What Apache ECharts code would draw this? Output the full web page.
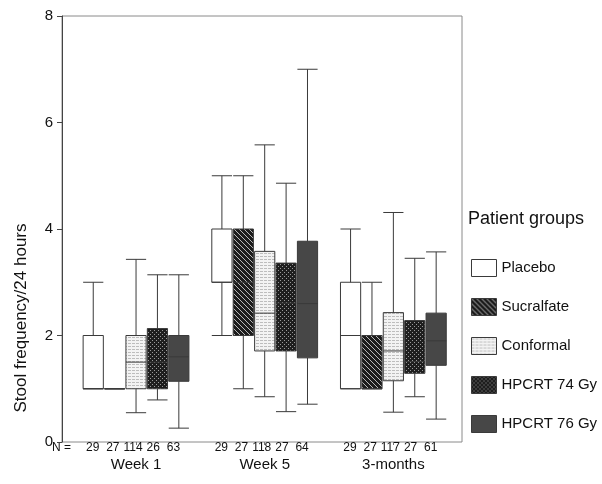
<!DOCTYPE html>
<html>
<head>
<meta charset="utf-8">
<script src="https://cdn.jsdelivr.net/npm/echarts@6/dist/echarts.min.js"></script>
<style>
  html, body { margin: 0; padding: 0; background: #fff; }
  #chart { width: 602px; height: 484px; }
</style>
</head>
<body>
<div id="chart"></div>
<script>
// data
var groups = ['Placebo', 'Sucralfate', 'Conformal', 'HPCRT 74 Gy', 'HPCRT 76 Gy']
var periods = ['Week 1', 'Week 5', '3-months']
var nCounts = [
  [29, 27, 114, 26, 63],
  [29, 27, 118, 27, 64],
  [29, 27, 117, 27, 61]
]
var yTicks = [0, 2, 4, 6, 8]
// [min, Q1, median, Q3, max] per period
var placebo = [[1, 1, 1, 2, 3], [2, 3, 3, 4, 5], [1, 1, 2, 3, 4]]
var sucralfate = [[1, 1, 1, 1, 1], [1, 2, 3, 4, 5], [1, 1, 1, 2, 3]]
var conformal = [[0.55, 1, 1.5, 2, 3.43], [0.85, 1.71, 2.42, 3.58, 5.58], [0.56, 1.15, 1.71, 2.43, 4.31]]
var hpcrt74 = [[0.79, 1, 1.5, 2.13, 3.14], [0.57, 1.71, 2.61, 3.36, 4.86], [0.85, 1.29, 1.51, 2.28, 3.45]]
var hpcrt76 = [[0.26, 1.14, 1.6, 2, 3.14], [0.71, 1.58, 2.6, 3.77, 7.0], [0.43, 1.44, 1.9, 2.42, 3.57]]
var allData = [placebo, sucralfate, conformal, hpcrt74, hpcrt76]

var FONT = '"Liberation Sans", Arial, sans-serif'

// little tiles used as fill patterns
function makePattern(w, h, bg, fg, test) {
  var c = document.createElement('canvas')
  c.width = w
  c.height = h
  var ctx = c.getContext('2d')
  ctx.fillStyle = bg
  ctx.fillRect(0, 0, w, h)
  ctx.fillStyle = fg
  for (var y = 0; y < h; y++) {
    for (var x = 0; x < w; x++) {
      if (test(x, y)) ctx.fillRect(x, y, 1, 1)
    }
  }
  return { image: c, repeat: 'repeat' }
}

var fills = [
  '#ffffff',
  makePattern(5, 5, '#1c1c1c', '#b8b8b8', function (x, y) { return (x - y + 5) % 5 === 0 }),
  makePattern(8, 6, '#f3f3f3', '#bdbdbd', function (x, y) { return y % 3 === 1 && x % 4 !== 3 }),
  makePattern(4, 4, '#1e1e1e', '#9a9a9a', function (x, y) { return (x === 0 && y === 0) || (x === 2 && y === 2) }),
  '#474747'
]
var boxBorder = '#3a3a3a'

var nLabel = {}
periods.forEach(function (p, i) {
  nLabel[p] = nCounts[i].map(function (n) { return '{n|' + n + '}' }).join('') + '{s|}\n{w|' + p + '}'
})

var chart = echarts.init(document.getElementById('chart'))

var series = groups.map(function (g, i) {
  return {
    name: g,
    type: 'boxplot',
    xAxisIndex: 1,
    yAxisIndex: 1,
    boxWidth: [20.2, 20.2],
    itemStyle: {
      color: fills[i],
      borderColor: boxBorder,
      borderWidth: 1
    },
    emphasis: { disabled: true },
    data: allData[i]
  }
})

var option = {
  backgroundColor: '#fff',
  animation: false,
  title: {
    text: 'Patient groups',
    left: 468,
    top: 210,
    padding: 0,
    textStyle: { fontSize: 18, fontWeight: 'normal', color: '#111', fontFamily: FONT }
  },
  legend: {
    data: groups.map(function (g, i) {
      return { name: g, itemStyle: { color: fills[i], borderColor: boxBorder, borderWidth: 1 } }
    }),
    orient: 'vertical',
    left: 471,
    top: 259,
    padding: 0,
    icon: 'rect',
    itemWidth: 25,
    itemHeight: 17,
    itemGap: 21,
    textStyle: { fontSize: 15, color: '#111', fontFamily: FONT }
  },
  grid: [
    {
      // frame
      left: 62, right: 140, top: 16, bottom: 42,
      show: true,
      borderColor: '#8a8a8a',
      borderWidth: 1
    },
    {
      left: 71.7, right: 144.3, top: 16, bottom: 42
    }
  ],
  xAxis: [
    { gridIndex: 0, type: 'value', show: false, min: 0, max: 1 },
    {
      gridIndex: 1,
      type: 'category',
      data: periods,
      axisLine: { show: false },
      axisTick: { show: true, alignWithLabel: true, length: 3, lineStyle: { color: '#777' } },
      axisLabel: {
        margin: 0,
        interval: 0,
        hideOverlap: false,
        formatter: function (v) { return nLabel[v] },
        rich: {
          n: { width: 20.2, align: 'center', fontSize: 12, lineHeight: 12, color: '#111', fontFamily: FONT },
          s: { width: 6 },
          w: { fontSize: 15, lineHeight: 22, color: '#111', fontFamily: FONT }
        }
      },
      splitLine: { show: false }
    }
  ],
  yAxis: [
    {
      gridIndex: 0,
      type: 'value',
      min: yTicks[0],
      max: yTicks[yTicks.length - 1],
      interval: 2,
      axisLine: { show: true, lineStyle: { color: '#444' } },
      axisTick: { show: true, length: 5, lineStyle: { color: '#444' } },
      axisLabel: { fontSize: 15, color: '#111', margin: 9, fontFamily: FONT },
      splitLine: { show: false }
    },
    {
      gridIndex: 1,
      type: 'value',
      min: 0,
      max: 8,
      show: false,
      splitLine: { show: false }
    }
  ],
  graphic: [
    {
      type: 'text',
      x: 21,
      y: 318,
      rotation: Math.PI / 2,
      style: {
        text: 'Stool frequency/24 hours',
        fontSize: 17,
        fontFamily: FONT,
        fill: '#111',
        align: 'center',
        verticalAlign: 'middle'
      }
    },
    {
      type: 'text',
      x: 52,
      y: 448,
      style: {
        text: 'N =',
        fontSize: 12,
        fontFamily: FONT,
        fill: '#111',
        align: 'left',
        verticalAlign: 'middle'
      }
    }
  ],
  series: series
}

chart.setOption(option)
</script>
</body>
</html>
